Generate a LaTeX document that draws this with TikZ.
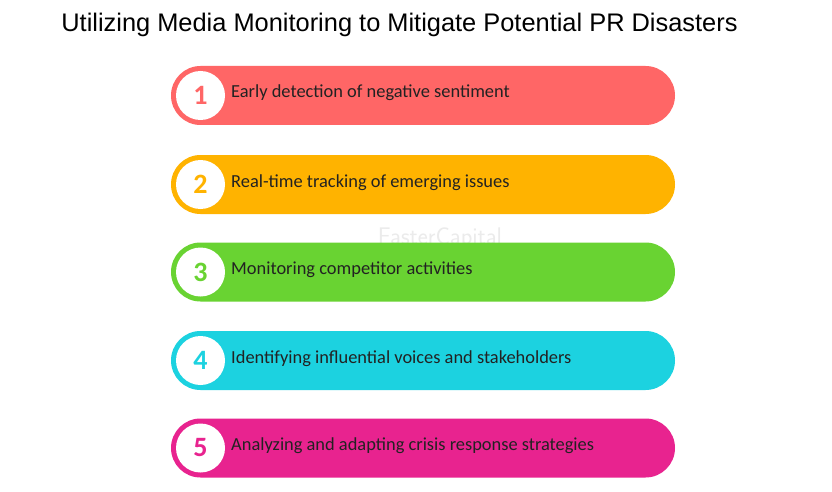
\documentclass[tikz,border=0pt]{standalone}
\usepackage{fontspec}
\setmainfont{Carlito}
\newfontfamily\titlefont{Liberation Sans}
\definecolor{cA}{HTML}{FF6666}
\definecolor{cB}{HTML}{FFB300}
\definecolor{cC}{HTML}{69D332}
\definecolor{cD}{HTML}{1CD2E0}
\definecolor{cE}{HTML}{E8238F}
\definecolor{txt}{HTML}{222222}
\tikzset{
  bar/.style={fill=#1, draw=none, rounded corners=29.5pt, minimum width=504pt, minimum height=59pt, inner sep=0pt},
  numcirc/.style={circle, fill=white, minimum size=49pt, inner sep=0pt, text=#1, font=\fontsize{28}{30}\selectfont\bfseries},
  lbl/.style={anchor=base west, text=txt, font=\fontsize{18.4}{21}\selectfont, inner sep=0pt},
}
\begin{document}
\begin{tikzpicture}[x=1pt,y=-1pt]
\useasboundingbox[fill=white] (0,0) rectangle (832,492);
\node[font=\titlefont\fontsize{25.4}{29}\selectfont, text=black, anchor=base] (title) at (399.5,32) {Utilizing Media Monitoring to Mitigate Potential PR Disasters};
\node[text=black!8, font=\fontsize{24}{26}\selectfont\sffamily] (wm) at (440,238) {FasterCapital};
\foreach \i/\y/\c/\t in {1/95.5/cA/Early detection of negative sentiment,
                          2/184.5/cB/Real-time tracking of emerging issues,
                          3/272/cC/Monitoring competitor activities,
                          4/360.5/cD/Identifying influential voices and stakeholders,
                          5/448/cE/Analyzing and adapting crisis response strategies}{
  \node[bar=\c] (b\i) at (423,\y) {};
  \node[numcirc=\c] (n\i) at (200.5,\y) {\i};
  \node[lbl] (t\i) at (231,\y+2.5) {\t};
}
\end{tikzpicture}
\end{document}
